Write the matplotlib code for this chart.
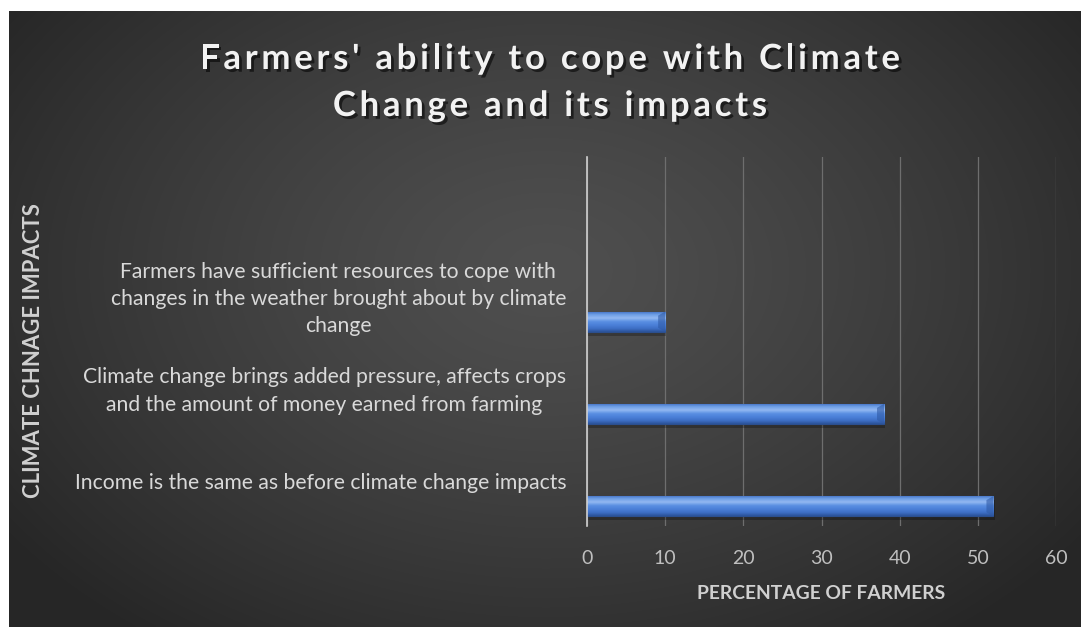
import numpy as np
import matplotlib
matplotlib.use("Agg")
import matplotlib.pyplot as plt
import matplotlib.patheffects as pe
from matplotlib.colors import LinearSegmentedColormap
from matplotlib.font_manager import FontProperties, findfont
from matplotlib.ft2font import FT2Font

# Data
categories = [
    "Income is the same as before climate change impacts",
    "Climate change brings added pressure, affects crops\nand the amount of money earned from farming",
    "Farmers have sufficient resources to cope with\nchanges in the weather brought about by climate\nchange",
]
values = [52, 38, 10]
x_ticks = [0, 10, 20, 30, 40, 50, 60]

title_lines = ["Farmers' ability to cope with Climate", "Change and its impacts"]
x_title = "PERCENTAGE OF FARMERS"
y_title = "CLIMATE CHNAGE IMPACTS"

FONT = ["Lato", "DejaVu Sans"]

W, H, DPI = 1081, 627, 100
fig = plt.figure(figsize=(W / DPI, H / DPI), dpi=DPI, facecolor="white")

# Dark radial-gradient chart background
bg = fig.add_axes([9 / W, 0, (W - 9) / W, (H - 11) / H])
bg.set_axis_off()
ny, nx = 300, 520
yy, xx = np.mgrid[0:ny, 0:nx]
cx, cy = 0.50 * nx, 0.42 * ny
r = np.sqrt(((xx - cx) / (0.62 * nx)) ** 2 + ((yy - cy) / (0.75 * ny)) ** 2)
r = np.clip(r, 0, 1)
shade = 0.31 - 0.16 * r ** 1.3
img = np.dstack([shade, shade, shade])
bg.imshow(img, aspect="auto", extent=[0, 1, 0, 1], interpolation="bilinear")
bg.set_xlim(0, 1)
bg.set_ylim(0, 1)

# Plot area
ax = fig.add_axes([587 / W, (H - 526) / H, (1056 - 587) / W, (526 - 157) / H])
ax.patch.set_alpha(0)

offset = 0.285
bar_h = 0.22
ypos = np.arange(len(categories)) - offset

bars = ax.barh(ypos, values, height=bar_h, color="#4a7bd0", edgecolor="#2c4f8e",
               linewidth=0.8, zorder=3)

# Bevelled shading on each bar
bevel = LinearSegmentedColormap.from_list(
    "bevel", ["#2a5299", "#3f70c6", "#4b80d8", "#5a8fe2", "#92b8f2", "#6f9fe6", "#3e6cc0"])
grad = np.linspace(0, 1, 64).reshape(-1, 1)
for b in bars:
    x0, y0 = b.get_x(), b.get_y()
    w, h = b.get_width(), b.get_height()
    # drop shadow
    ax.add_patch(plt.Rectangle((x0 + 0.15, y0 - 0.045), w, h, color="black",
                               alpha=0.25, lw=0, zorder=2))
    im = ax.imshow(grad, cmap=bevel, aspect="auto", origin="lower",
                   extent=[x0, x0 + w, y0, y0 + h], zorder=3.5,
                   interpolation="bilinear")
    im.set_clip_path(b)
    # right-end bevel
    ax.fill([x0 + w - 0.9, x0 + w, x0 + w, x0 + w - 0.9],
            [y0 + h * 0.2, y0, y0 + h, y0 + h * 0.8],
            color="#2f5aa6", alpha=0.6, lw=0, zorder=3.6)

ax.set_xlim(0, 60)
ax.set_ylim(-0.5, 3.5)
ax.set_xticks(x_ticks)
ax.set_xticklabels([str(t) for t in x_ticks], fontsize=14, color="#bfbfbf",
                   family=FONT)
ax.tick_params(axis="x", length=0, pad=17.5)
ax.tick_params(axis="y", length=0)
ax.set_yticks([])
ax.grid(axis="x", color="#6e6e6e", linewidth=0.9, zorder=0)
for s in ["top", "right", "bottom"]:
    ax.spines[s].set_visible(False)
ax.spines["left"].set_color("#d0d0d0")
ax.spines["left"].set_linewidth(1.2)
ax.spines["left"].set_zorder(4)

# Category labels, right-aligned beside the axis
for i, lab in enumerate(categories):
    ax.annotate(lab, xy=(0, i), xytext=(-15, -2.5), textcoords="offset points",
                ha="right", va="center", multialignment="center",
                fontsize=15.2, color="#d9d9d9", family=FONT, linespacing=1.45)

ax.set_xlabel(x_title, fontsize=13.9, fontweight="bold", color="#d0d0d0",
              family=FONT, labelpad=13)

fig.text(34 / W, 1 - 351 / H, y_title, rotation=90, ha="center", va="center",
         fontsize=15.9, fontweight="bold", color="#d0d0d0", family=FONT)

# Letter-spaced title with a soft drop shadow
t_size = 25
t_prop = FontProperties(family="Lato", weight="bold", size=t_size)
ft = FT2Font(findfont(t_prop))
ft.set_size(t_size, DPI)


def advances(s):
    return np.array([ft.load_char(ord(c)).linearHoriAdvance / 65536.0 for c in s])


adv0 = advances(title_lines[0])
tracking = (700 - adv0.sum()) / (len(title_lines[0]) - 1)
shadow = [pe.withSimplePatchShadow(offset=(2, -2), shadow_rgbFace="black", alpha=0.55)]
for line, base_y in zip(title_lines, [69, 116]):
    adv = advances(line)
    width = adv.sum() + tracking * (len(line) - 1)
    x = 550 - width / 2
    for c, a in zip(line, adv):
        if c != " ":
            fig.text(x / W, 1 - base_y / H, c, ha="left", va="baseline",
                     fontproperties=t_prop, color="#f2f2f2", path_effects=shadow)
        x += a + tracking

fig.savefig("out.png", dpi=DPI, facecolor="white")
